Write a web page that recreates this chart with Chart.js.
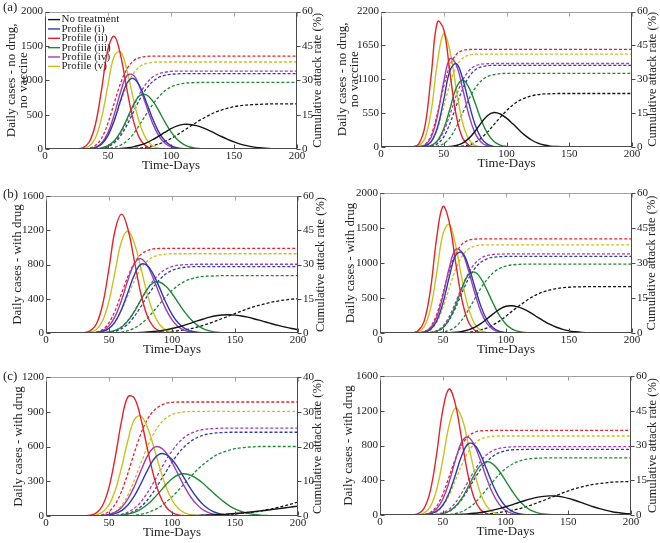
<!DOCTYPE html>
<html><head><meta charset="utf-8">
<script src="https://cdn.jsdelivr.net/npm/chart.js@4.4.1/dist/chart.umd.min.js"></script>
<style>
html,body{margin:0;padding:0;background:#fff;}
body{width:660px;height:543px;position:relative;overflow:hidden;}
canvas{position:absolute;}
</style></head><body>
<script>
// ---------- shared axis values ----------
const days = [0,5,10,15,20,25,30,35,40,45,50,55,60,65,70,75,80,85,90,95,100,105,110,115,120,125,130,135,140,145,150,155,160,165,170,175,180,185,190,195,200];
const profileLabels = ['No treatment','Profile (i)','Profile (ii)','Profile (iii)','Profile (iv)','Profile (v)'];
const xTicksStep = 50;
const leftMaxes  = [2000, 2200, 1600, 2000, 1200, 1600];
const leftSteps  = [500, 550, 400, 500, 300, 400];
const rightMaxes = [60, 60, 60, 60, 40, 60];
const rightSteps = [15, 15, 15, 15, 10, 15];
const yTitles = [['Daily cases - no drug,','no vaccine'], ['Daily cases - no drug,','no vaccine'],
  'Daily cases - with drug','Daily cases - with drug','Daily cases - with drug','Daily cases - with drug'];
const rightTitle = 'Cumulative attack rate (%)';
const xTitle = 'Time-Days';
const panelLabels = ['(a)','','(b)','','(c)',''];

// ---------- panel (a) left : daily cases ----------
const A1_daily_none = [0,0,0,0,0,0,0,0,0,1, 2,4,8,17,31,54,87,131,184,241, 295,336,358,357,340,311,272,228,182,140, 103,72,49,31,19,11,6,4,2,1, 0];
const A1_daily_i    = [0,0,0,0,0,0,1,5,21,72, 194,416,709,957,1027,920,703,460,256,123, 50,17,5,1,0,0,0,0,0,0, 0,0,0,0,0,0,0,0,0,0, 0];
const A1_daily_ii   = [0,0,0,0,0,2,18,98,357,876, 1456,1641,1363,867,424,158,46,10,2,0, 0,0,0,0,0,0,0,0,0,0, 0,0,0,0,0,0,0,0,0,0, 0];
const A1_daily_iii  = [0,0,0,0,0,0,0,1,4,16, 48,120,250,436,636,774,792,711,566,398, 249,138,68,29,11,4,1,0,0,0, 0,0,0,0,0,0,0,0,0,0, 0];
const A1_daily_iv   = [0,0,0,0,0,0,1,6,25,88, 238,504,830,1066,1077,911,650,394,201,87, 32,10,3,0,0,0,0,0,0,0, 0,0,0,0,0,0,0,0,0,0, 0];
const A1_daily_v    = [0,0,0,0,0,1,7,40,161,459, 934,1355,1414,1148,740,379,154,50,13,3, 0,0,0,0,0,0,0,0,0,0, 0,0,0,0,0,0,0,0,0,0, 0];
// panel (a) left : cumulative attack rate (%)
const A1_cum_none = [0,0,0,0,0,0,0,0,0,0, 0,0,0.1,0.1,0.2,0.4,0.8,1.4,2.1,3.2, 4.6,6.2,8.0,9.8,11.6,13.2,14.7,16.0,17.0,17.8, 18.5,18.9,19.2,19.4,19.5,19.6,19.7,19.7,19.7,19.7, 19.7];
const A1_cum_i    = [0,0,0,0,0,0,0,0,0.1,0.3, 1.0,2.7,5.8,10.4,16.0,21.5,26.0,29.2,31.2,32.2, 32.6,32.8,32.9,32.9,32.9,32.9,32.9,32.9,32.9,32.9, 32.9,32.9,32.9,32.9,32.9,32.9,32.9,32.9,32.9,32.9, 32.9];
const A1_cum_ii   = [0,0,0,0,0,0,0,0.3,1.5,4.8, 11.3,20.2,28.7,34.9,38.4,39.9,40.4,40.6,40.6,40.6, 40.6,40.6,40.6,40.6,40.6,40.6,40.6,40.6,40.6,40.6, 40.6,40.6,40.6,40.6,40.6,40.6,40.6,40.6,40.6,40.6, 40.6];
const A1_cum_iii  = [0,0,0,0,0,0,0,0,0,0.1, 0.2,0.7,1.7,3.5,6.5,10.5,14.9,19.1,22.6,25.3, 27.1,28.1,28.7,28.9,29.0,29.1,29.1,29.1,29.1,29.1, 29.1,29.1,29.1,29.1,29.1,29.1,29.1,29.1,29.1,29.1, 29.1];
const A1_cum_iv   = [0,0,0,0,0,0,0,0,0.1,0.4, 1.2,3.2,6.9,12.3,18.3,23.9,28.3,31.2,32.8,33.5, 33.9,34.0,34.0,34.0,34.0,34.0,34.0,34.0,34.0,34.0, 34.0,34.0,34.0,34.0,34.0,34.0,34.0,34.0,34.0,34.0, 34.0];
const A1_cum_v    = [0,0,0,0,0,0,0,0.1,0.6,2.2, 6.1,12.5,20.4,27.6,32.8,35.9,37.3,37.8,38.0,38.0, 38.0,38.0,38.0,38.0,38.0,38.0,38.0,38.0,38.0,38.0, 38.0,38.0,38.0,38.0,38.0,38.0,38.0,38.0,38.0,38.0, 38.0];

// ---------- panel (a) right ----------
const A2_daily_none = [0,0,0,0,0,0,0,0,0,0, 2,8,25,64,140,256,396,513,560,536, 469,376,276,185,114,64,33,15,7,3, 1,0,0,0,0,0,0,0,0,0, 0];
const A2_daily_i    = [0,0,0,0,0,0,2,16,88,318, 767,1242,1355,1114,717,361,142,44,11,2, 0,0,0,0,0,0,0,0,0,0, 0,0,0,0,0,0,0,0,0,0, 0];
const A2_daily_ii   = [0,0,0,0,0,3,48,335,1167,2035, 1909,1194,506,145,28,4,0,0,0,0, 0,0,0,0,0,0,0,0,0,0, 0,0,0,0,0,0,0,0,0,0, 0];
const A2_daily_iii  = [0,0,0,0,0,0,1,5,27,104, 298,625,962,1089,970,713,432,216,89,30, 9,2,0,0,0,0,0,0,0,0, 0,0,0,0,0,0,0,0,0,0, 0];
const A2_daily_iv   = [0,0,0,0,0,0,4,32,158,509, 1061,1438,1334,951,523,221,72,18,4,0, 0,0,0,0,0,0,0,0,0,0, 0,0,0,0,0,0,0,0,0,0, 0];
const A2_daily_v    = [0,0,0,0,0,1,19,139,584,1380, 1840,1554,936,402,123,27,4,0,0,0, 0,0,0,0,0,0,0,0,0,0, 0,0,0,0,0,0,0,0,0,0, 0];
const A2_cum_none = [0,0,0,0,0,0,0,0,0,0, 0,0,0.1,0.4,0.9,2.1,4.0,6.7,9.9,13.1, 16.1,18.6,20.5,21.8,22.7,23.2,23.5,23.6,23.7,23.7, 23.7,23.7,23.7,23.7,23.7,23.7,23.7,23.7,23.7,23.7, 23.7];
const A2_cum_i    = [0,0,0,0,0,0,0,0,0.3,1.4, 4.5,10.5,18.3,25.6,31.0,34.1,35.5,36.0,36.2,36.2, 36.2,36.2,36.2,36.2,36.2,36.2,36.2,36.2,36.2,36.2, 36.2,36.2,36.2,36.2,36.2,36.2,36.2,36.2,36.2,36.2, 36.2];
const A2_cum_ii   = [0,0,0,0,0,0,0.1,1.0,5.2,14.9, 26.9,36.2,41.0,42.8,43.2,43.3,43.3,43.3,43.3,43.3, 43.3,43.3,43.3,43.3,43.3,43.3,43.3,43.3,43.3,43.3, 43.3,43.3,43.3,43.3,43.3,43.3,43.3,43.3,43.3,43.3, 43.3];
const A2_cum_iii  = [0,0,0,0,0,0,0,0,0.1,0.4, 1.5,4.2,8.9,15.0,21.1,26.1,29.4,31.3,32.1,32.5, 32.6,32.6,32.6,32.6,32.6,32.6,32.6,32.6,32.6,32.6, 32.6,32.6,32.6,32.6,32.6,32.6,32.6,32.6,32.6,32.6, 32.6];
const A2_cum_iv   = [0,0,0,0,0,0,0,0.1,0.6,2.4, 7.0,14.5,22.8,29.5,33.8,35.9,36.7,36.9,37.0,37.0, 37.0,37.0,37.0,37.0,37.0,37.0,37.0,37.0,37.0,37.0, 37.0,37.0,37.0,37.0,37.0,37.0,37.0,37.0,37.0,37.0, 37.0];
const A2_cum_v    = [0,0,0,0,0,0,0,0.4,2.3,8.0, 17.9,28.1,35.5,39.3,40.7,41.1,41.2,41.2,41.2,41.2, 41.2,41.2,41.2,41.2,41.2,41.2,41.2,41.2,41.2,41.2, 41.2,41.2,41.2,41.2,41.2,41.2,41.2,41.2,41.2,41.2, 41.2];

// ---------- panel (b) left ----------
const B1_daily_none = [0,0,0,0,0,0,0,0,0,0, 0,0,1,2,4,6,11,17,25,37, 52,70,92,116,141,164,185,201,211,213, 209,199,185,167,147,126,105,86,68,52, 39];
const B1_daily_i    = [0,0,0,0,0,0,0,1,5,18, 54,134,277,474,675,798,792,691,533,362, 218,116,54,23,8,3,1,0,0,0, 0,0,0,0,0,0,0,0,0,0, 0];
const B1_daily_ii   = [0,0,0,0,0,0,4,24,106,336, 755,1212,1388,1215,851,478,214,77,22,5, 1,0,0,0,0,0,0,0,0,0, 0,0,0,0,0,0,0,0,0,0, 0];
const B1_daily_iii  = [0,0,0,0,0,0,0,0,1,4, 11,30,70,141,247,377,503,585,596,548, 461,353,247,157,92,48,24,10,4,2, 1,0,0,0,0,0,0,0,0,0, 0];
const B1_daily_iv   = [0,0,0,0,0,0,0,2,8,28, 83,197,385,616,808,869,799,644,456,282, 154,73,31,11,4,1,0,0,0,0, 0,0,0,0,0,0,0,0,0,0, 0];
const B1_daily_v    = [0,0,0,0,0,0,2,9,42,145, 374,729,1072,1188,1055,778,476,242,102,36, 10,3,0,0,0,0,0,0,0,0, 0,0,0,0,0,0,0,0,0,0, 0];
const B1_cum_none = [0,0,0,0,0,0,0,0,0,0, 0,0,0,0,0,0.1,0.1,0.2,0.3,0.4, 0.7,1.0,1.4,1.9,2.6,3.4,4.3,5.3,6.4,7.4, 8.5,9.6,10.6,11.5,12.3,13.0,13.6,14.1,14.5,14.8, 15.0];
const B1_cum_i    = [0,0,0,0,0,0,0,0,0,0.1, 0.3,0.8,1.9,3.9,7.2,11.3,15.8,19.9,23.3,25.8, 27.4,28.3,28.8,29.0,29.1,29.1,29.1,29.1,29.1,29.1, 29.1,29.1,29.1,29.1,29.1,29.1,29.1,29.1,29.1,29.1, 29.1];
const B1_cum_ii   = [0,0,0,0,0,0,0,0.1,0.4,1.5, 4.5,10.0,17.4,24.7,30.5,34.2,36.0,36.8,37.0,37.1, 37.1,37.1,37.1,37.1,37.1,37.1,37.1,37.1,37.1,37.1, 37.1,37.1,37.1,37.1,37.1,37.1,37.1,37.1,37.1,37.1, 37.1];
const B1_cum_iii  = [0,0,0,0,0,0,0,0,0,0, 0.1,0.2,0.4,1.0,2.1,3.8,6.2,9.3,12.6,15.8, 18.6,20.9,22.6,23.7,24.4,24.8,24.9,25.0,25.1,25.1, 25.1,25.1,25.1,25.1,25.1,25.1,25.1,25.1,25.1,25.1, 25.1];
const B1_cum_iv   = [0,0,0,0,0,0,0,0,0,0.1, 0.4,1.1,2.7,5.5,9.5,14.2,18.8,22.8,25.9,27.9, 29.1,29.7,29.9,30.0,30.1,30.1,30.1,30.1,30.1,30.1, 30.1,30.1,30.1,30.1,30.1,30.1,30.1,30.1,30.1,30.1, 30.1];
const B1_cum_v    = [0,0,0,0,0,0,0,0,0.2,0.6, 2.0,5.0,10.1,16.4,22.7,27.9,31.3,33.3,34.2,34.5, 34.7,34.7,34.7,34.7,34.7,34.7,34.7,34.7,34.7,34.7, 34.7,34.7,34.7,34.7,34.7,34.7,34.7,34.7,34.7,34.7, 34.7];

// ---------- panel (b) right ----------
const B2_daily_none = [0,0,0,0,0,0,0,0,0,1, 2,4,10,22,45,82,135,203,276,341, 382,389,370,333,283,226,171,122,82,52, 31,18,9,5,2,1,0,0,0,0, 0];
const B2_daily_i    = [0,0,0,0,0,0,2,11,51,172, 431,801,1109,1152,969,672,385,182,71,23, 6,1,0,0,0,0,0,0,0,0, 0,0,0,0,0,0,0,0,0,0, 0];
const B2_daily_ii   = [0,0,0,0,0,3,27,166,613,1359, 1808,1580,1012,477,165,42,8,1,0,0, 0,0,0,0,0,0,0,0,0,0, 0,0,0,0,0,0,0,0,0,0, 0];
const B2_daily_iii  = [0,0,0,0,0,0,0,1,7,26, 80,199,396,637,828,870,781,609,414,244, 126,56,22,7,2,1,0,0,0,0, 0,0,0,0,0,0,0,0,0,0, 0];
const B2_daily_iv   = [0,0,0,0,0,0,3,16,70,226, 535,932,1193,1152,907,585,309,134,48,14, 3,1,0,0,0,0,0,0,0,0, 0,0,0,0,0,0,0,0,0,0, 0];
const B2_daily_v    = [0,0,0,0,0,2,15,87,338,854, 1416,1551,1254,777,369,135,38,8,1,0, 0,0,0,0,0,0,0,0,0,0, 0,0,0,0,0,0,0,0,0,0, 0];
const B2_cum_none = [0,0,0,0,0,0,0,0,0,0, 0,0,0.1,0.1,0.3,0.7,1.3,2.2,3.5,5.2, 7.2,9.4,11.5,13.4,15.2,16.6,17.7,18.5,19.0,19.4, 19.6,19.8,19.8,19.9,19.9,19.9,19.9,19.9,19.9,19.9, 19.9];
const B2_cum_i    = [0,0,0,0,0,0,0,0,0.2,0.7, 2.3,5.6,10.9,17.2,23.0,27.5,30.3,31.8,32.5,32.7, 32.8,32.8,32.8,32.8,32.8,32.8,32.8,32.8,32.8,32.8, 32.8,32.8,32.8,32.8,32.8,32.8,32.8,32.8,32.8,32.8, 32.8];
const B2_cum_ii   = [0,0,0,0,0,0,0.1,0.5,2.5,7.9, 17.0,26.7,33.9,38.0,39.7,40.2,40.3,40.3,40.3,40.3, 40.3,40.3,40.3,40.3,40.3,40.3,40.3,40.3,40.3,40.3, 40.3,40.3,40.3,40.3,40.3,40.3,40.3,40.3,40.3,40.3, 40.3];
const B2_cum_iii  = [0,0,0,0,0,0,0,0,0,0.1, 0.4,1.1,2.7,5.6,9.7,14.5,19.2,23.0,25.9,27.7, 28.7,29.2,29.4,29.5,29.5,29.5,29.5,29.5,29.5,29.5, 29.5,29.5,29.5,29.5,29.5,29.5,29.5,29.5,29.5,29.5, 29.5];
const B2_cum_iv   = [0,0,0,0,0,0,0,0,0.3,1.0, 3.0,7.1,13.1,19.7,25.5,29.6,32.0,33.2,33.7,33.8, 33.9,33.9,33.9,33.9,33.9,33.9,33.9,33.9,33.9,33.9, 33.9,33.9,33.9,33.9,33.9,33.9,33.9,33.9,33.9,33.9, 33.9];
const B2_cum_v    = [0,0,0,0,0,0,0,0.3,1.3,4.5, 10.9,19.3,27.2,32.8,35.9,37.2,37.7,37.8,37.8,37.8, 37.8,37.8,37.8,37.8,37.8,37.8,37.8,37.8,37.8,37.8, 37.8,37.8,37.8,37.8,37.8,37.8,37.8,37.8,37.8,37.8, 37.8];

// ---------- panel (c) left ----------
const C1_daily_none = [0,0,0,0,0,0,0,0,0,0, 0,0,0,0,0,0,0,0,1,1, 2,2,3,4,5,7,9,11,14,18, 22,26,32,37,44,50,57,64,71,78, 85];
const C1_daily_i    = [0,0,0,0,0,0,0,0,1,3, 8,21,47,95,171,272,383,481,535,532, 488,412,322,232,155,95,54,28,14,6, 3,1,0,0,0,0,0,0,0,0, 0];
const C1_daily_ii   = [0,0,0,0,0,0,1,6,27,93, 247,511,822,1029,1020,853,606,366,188,82, 30,10,3,1,0,0,0,0,0,0, 0,0,0,0,0,0,0,0,0,0, 0];
const C1_daily_iii  = [0,0,0,0,0,0,0,0,0,1, 1,3,8,17,32,58,95,146,205,267, 321,356,365,351,321,278,228,178,132,92, 61,39,23,13,7,4,2,1,0,0, 0];
const C1_daily_iv   = [0,0,0,0,0,0,0,0,1,4, 13,33,74,147,253,383,506,586,596,550, 463,357,252,162,96,51,25,11,5,2, 1,0,0,0,0,0,0,0,0,0, 0];
const C1_daily_v    = [0,0,0,0,0,0,0,2,10,34, 96,222,421,652,829,865,779,615,426,259, 138,64,26,9,3,1,0,0,0,0, 0,0,0,0,0,0,0,0,0,0, 0];
const C1_cum_none = [0,0,0,0,0,0,0,0,0,0, 0,0,0,0,0,0,0,0,0,0, 0,0,0.1,0.1,0.1,0.2,0.2,0.3,0.4,0.5, 0.6,0.8,0.9,1.2,1.4,1.8,2.1,2.5,3.0,3.5, 4.0];
const C1_cum_i    = [0,0,0,0,0,0,0,0,0,0, 0,0.1,0.3,0.7,1.4,2.6,4.4,6.8,9.7,12.6, 15.5,18.0,20.0,21.5,22.6,23.3,23.7,23.9,24.0,24.1, 24.1,24.1,24.1,24.1,24.1,24.1,24.1,24.1,24.1,24.1, 24.1];
const C1_cum_ii   = [0,0,0,0,0,0,0,0,0.1,0.4, 1.3,3.4,7.1,12.3,18.1,23.4,27.5,30.1,31.6,32.4, 32.7,32.8,32.8,32.8,32.8,32.8,32.8,32.8,32.8,32.8, 32.8,32.8,32.8,32.8,32.8,32.8,32.8,32.8,32.8,32.8, 32.8];
const C1_cum_iii  = [0,0,0,0,0,0,0,0,0,0, 0,0,0.1,0.1,0.2,0.5,0.9,1.6,2.5,3.9, 5.5,7.4,9.4,11.4,13.3,14.9,16.3,17.5,18.3,18.9, 19.4,19.6,19.8,19.9,20.0,20.0,20.0,20.0,20.0,20.0, 20.0];
const C1_cum_iv   = [0,0,0,0,0,0,0,0,0,0, 0.1,0.2,0.5,1.1,2.2,3.9,6.4,9.4,12.7,15.9, 18.7,21.0,22.7,23.8,24.5,24.9,25.1,25.2,25.3,25.3, 25.3,25.3,25.3,25.3,25.3,25.3,25.3,25.3,25.3,25.3, 25.3];
const C1_cum_v    = [0,0,0,0,0,0,0,0,0,0.1, 0.5,1.3,3.1,6.0,10.2,14.9,19.5,23.4,26.2,28.1, 29.2,29.7,30.0,30.1,30.1,30.1,30.1,30.1,30.1,30.1, 30.1,30.1,30.1,30.1,30.1,30.1,30.1,30.1,30.1,30.1, 30.1];

// ---------- panel (c) right ----------
const C2_daily_none = [0,0,0,0,0,0,0,0,1,1, 2,3,5,9,13,20,29,41,56,74, 95,117,141,164,185,203,214,220,218,208, 192,170,146,120,95,73,54,38,27,18, 13];
const C2_daily_i    = [0,0,0,0,0,0,1,3,12,41, 112,251,458,678,816,810,698,525,346,199, 100,44,17,6,2,0,0,0,0,0, 0,0,0,0,0,0,0,0,0,0, 0];
const C2_daily_ii   = [0,0,0,0,0,2,14,74,272,689, 1204,1450,1280,879,471,196,64,16,3,0, 0,0,0,0,0,0,0,0,0,0, 0,0,0,0,0,0,0,0,0,0, 0];
const C2_daily_iii  = [0,0,0,0,0,0,0,0,2,5, 16,43,97,188,316,457,571,615,586,506, 396,282,181,106,56,27,12,5,2,1, 0,0,0,0,0,0,0,0,0,0, 0];
const C2_daily_iv   = [0,0,0,0,0,0,1,5,21,69, 181,376,627,838,897,809,629,422,244,122, 52,19,6,2,0,0,0,0,0,0, 0,0,0,0,0,0,0,0,0,0, 0];
const C2_daily_v    = [0,0,0,0,0,1,4,23,94,285, 631,1027,1229,1127,841,510,251,101,33,9, 2,0,0,0,0,0,0,0,0,0, 0,0,0,0,0,0,0,0,0,0, 0];
const C2_cum_none = [0,0,0,0,0,0,0,0,0,0, 0,0,0,0.1,0.1,0.2,0.3,0.5,0.7,1.1, 1.5,2.0,2.6,3.4,4.2,5.2,6.2,7.3,8.3,9.4, 10.4,11.3,12.0,12.7,13.2,13.6,13.9,14.2,14.3,14.4, 14.5];
const C2_cum_i    = [0,0,0,0,0,0,0,0,0,0.2, 0.6,1.5,3.5,6.6,10.8,15.4,19.6,23.0,25.4,26.9, 27.7,28.1,28.2,28.3,28.3,28.3,28.3,28.3,28.3,28.3, 28.3,28.3,28.3,28.3,28.3,28.3,28.3,28.3,28.3,28.3, 28.3];
const C2_cum_ii   = [0,0,0,0,0,0,0,0.2,1.1,3.7, 8.9,16.4,24.1,30.1,33.8,35.6,36.3,36.4,36.5,36.5, 36.5,36.5,36.5,36.5,36.5,36.5,36.5,36.5,36.5,36.5, 36.5,36.5,36.5,36.5,36.5,36.5,36.5,36.5,36.5,36.5, 36.5];
const C2_cum_iii  = [0,0,0,0,0,0,0,0,0,0, 0.1,0.2,0.6,1.4,2.8,4.9,7.8,11.1,14.4,17.5, 20.0,21.8,23.1,23.9,24.3,24.5,24.6,24.7,24.7,24.7, 24.7,24.7,24.7,24.7,24.7,24.7,24.7,24.7,24.7,24.7, 24.7];
const C2_cum_iv   = [0,0,0,0,0,0,0,0,0.1,0.3, 1.0,2.5,5.2,9.4,14.2,19.0,23.0,26.0,27.8,28.8, 29.2,29.4,29.5,29.5,29.5,29.5,29.5,29.5,29.5,29.5, 29.5,29.5,29.5,29.5,29.5,29.5,29.5,29.5,29.5,29.5, 29.5];
const C2_cum_v    = [0,0,0,0,0,0,0,0.1,0.4,1.3, 3.8,8.4,14.8,21.4,26.9,30.6,32.7,33.6,34.0,34.1, 34.1,34.1,34.1,34.1,34.1,34.1,34.1,34.1,34.1,34.1, 34.1,34.1,34.1,34.1,34.1,34.1,34.1,34.1,34.1,34.1, 34.1];

// ---------- styles & layout (not data) ----------
const profileColors = ['#141414','#2a3cb0','#e4232b','#1d8a33','#a63ab6','#c9c21e'];
const FONT = "'Liberation Serif','Times New Roman',serif";
// page-pixel geometry of each panel: canvas box, plot area, title placements
const geoms = [
  {x:0,   y:0,   w:330, h:180, L:45,  T:8,   R:297, B:149, yT:11.7, rT:318,   xT:166, lab:[3,8]},
  {x:330, y:0,   w:330, h:180, L:381, T:7,   R:632, B:147, yT:13,   rT:652.5, xT:164, lab:[0,0]},
  {x:0,   y:180, w:330, h:180, L:46,  T:196, R:298, B:333, yT:17.5, rT:320.5, xT:350, lab:[3,195]},
  {x:330, y:180, w:330, h:180, L:380, T:193, R:632, B:333, yT:20.5, rT:652,   xT:350, lab:[0,0]},
  {x:0,   y:360, w:330, h:183, L:46,  T:377, R:298, B:516, yT:18.5, rT:318,   xT:533, lab:[3,377]},
  {x:330, y:360, w:330, h:183, L:380, T:376, R:631, B:515, yT:19,   rT:652.5, xT:532, lab:[0,0]}
];
const dailySets = [
  [A1_daily_none,A1_daily_i,A1_daily_ii,A1_daily_iii,A1_daily_iv,A1_daily_v],
  [A2_daily_none,A2_daily_i,A2_daily_ii,A2_daily_iii,A2_daily_iv,A2_daily_v],
  [B1_daily_none,B1_daily_i,B1_daily_ii,B1_daily_iii,B1_daily_iv,B1_daily_v],
  [B2_daily_none,B2_daily_i,B2_daily_ii,B2_daily_iii,B2_daily_iv,B2_daily_v],
  [C1_daily_none,C1_daily_i,C1_daily_ii,C1_daily_iii,C1_daily_iv,C1_daily_v],
  [C2_daily_none,C2_daily_i,C2_daily_ii,C2_daily_iii,C2_daily_iv,C2_daily_v]
];
const cumSets = [
  [A1_cum_none,A1_cum_i,A1_cum_ii,A1_cum_iii,A1_cum_iv,A1_cum_v],
  [A2_cum_none,A2_cum_i,A2_cum_ii,A2_cum_iii,A2_cum_iv,A2_cum_v],
  [B1_cum_none,B1_cum_i,B1_cum_ii,B1_cum_iii,B1_cum_iv,B1_cum_v],
  [B2_cum_none,B2_cum_i,B2_cum_ii,B2_cum_iii,B2_cum_iv,B2_cum_v],
  [C1_cum_none,C1_cum_i,C1_cum_ii,C1_cum_iii,C1_cum_iv,C1_cum_v],
  [C2_cum_none,C2_cum_i,C2_cum_ii,C2_cum_iii,C2_cum_iv,C2_cum_v]
];

const framePlugin = {
  id: 'frame',
  afterDraw(chart) {
    const o = chart.options.plugins.frame;
    const g = o.geom;
    const {ctx, chartArea: a, scales} = chart;
    const L = Math.round(a.left) + 0.5, R = Math.round(a.right) - 0.5;
    const T = Math.round(a.top) + 0.5, B = Math.round(a.bottom) - 0.5;
    const line = (x1,y1,x2,y2) => { ctx.beginPath(); ctx.moveTo(x1,y1); ctx.lineTo(x2,y2); ctx.stroke(); };
    ctx.save();
    ctx.lineWidth = 1;
    ctx.strokeStyle = '#a0a0a0';
    line(L, T, R, T);
    ctx.strokeStyle = '#4a4a4a';
    line(L, T, L, B); line(L, B, R, B); line(R, T, R, B);
    // inward ticks on x (bottom & top) and left y, outward on right y
    scales.x.ticks.forEach(t => {
      const px = Math.round(scales.x.getPixelForValue(t.value)) + 0.5;
      ctx.strokeStyle = '#4a4a4a'; line(px, B, px, B - 4);
      ctx.strokeStyle = '#a0a0a0'; line(px, T, px, T + 4);
    });
    ctx.strokeStyle = '#4a4a4a';
    scales.y.ticks.forEach(t => {
      const py = Math.round(scales.y.getPixelForValue(t.value)) + 0.5;
      line(L, py, L + 4, py);
    });
    scales.y2.ticks.forEach(t => {
      const py = Math.round(scales.y2.getPixelForValue(t.value)) + 0.5;
      line(R, py, R + 4, py);
    });
    // right-axis title (reads bottom to top)
    ctx.fillStyle = '#222';
    ctx.font = '12.5px ' + FONT;
    ctx.textAlign = 'center'; ctx.textBaseline = 'middle';
    ctx.save();
    ctx.translate(g.rT - g.x, (a.top + a.bottom) / 2);
    ctx.rotate(-Math.PI / 2);
    ctx.fillText(rightTitle, 0, 0);
    ctx.restore();
    // panel label
    if (o.label) {
      ctx.font = '13px ' + FONT;
      ctx.textAlign = 'left';
      ctx.fillText(o.label, g.lab[0] - g.x, g.lab[1] - g.y);
    }
    // legend
    if (o.legend) {
      ctx.font = '11px ' + FONT;
      ctx.textAlign = 'left'; ctx.textBaseline = 'middle';
      ctx.lineWidth = 1.4;
      profileLabels.forEach((lbl, k) => {
        const yy = a.top + 8 + k * 9.35;
        ctx.strokeStyle = profileColors[k];
        line(a.left + 3, yy, a.left + 15, yy);
        ctx.fillStyle = '#222';
        ctx.fillText(lbl, a.left + 16.5, yy);
      });
    }
    ctx.restore();
  }
};

function buildPanel(p) {
  const g = geoms[p];
  const cv = document.createElement('canvas');
  cv.width = g.w; cv.height = g.h;
  cv.style.left = g.x + 'px'; cv.style.top = g.y + 'px';
  cv.style.width = g.w + 'px'; cv.style.height = g.h + 'px';
  document.body.appendChild(cv);
  const datasets = [];
  dailySets[p].forEach((arr, k) => datasets.push({
    label: profileLabels[k],
    data: days.map((d, i) => ({x: d, y: arr[i]})),
    yAxisID: 'y', borderColor: profileColors[k], borderWidth: 1.4,
    pointRadius: 0, tension: 0.4, fill: false
  }));
  cumSets[p].forEach((arr, k) => datasets.push({
    label: profileLabels[k] + ' - cumulative',
    data: days.map((d, i) => ({x: d, y: arr[i]})),
    yAxisID: 'y2', borderColor: profileColors[k], borderWidth: 1.3, borderDash: [3, 2],
    pointRadius: 0, cubicInterpolationMode: 'monotone', fill: false
  }));
  const yTitleLH = 0.9, yTitleSize = 13;
  const xTitleSize = 13, xTitleLH = 1.2;
  const numFmt = v => String(v);
  new Chart(cv, {
    type: 'line',
    data: {datasets},
    options: {
      responsive: false, animation: false, events: [],
      layout: {padding: {top: g.T - g.y, left: 0, right: 0, bottom: 0}},
      plugins: {legend: {display: false}, tooltip: {enabled: false},
        frame: {geom: g, label: panelLabels[p], legend: p === 0}},
      scales: {
        x: {type: 'linear', position: 'bottom', min: 0, max: 200,
          grid: {display: false, drawTicks: false}, border: {display: false},
          ticks: {stepSize: xTicksStep, padding: 1, autoSkip: false, maxRotation: 0, color: '#222',
            font: {family: FONT, size: 11}, callback: numFmt},
          title: {display: true, text: xTitle, color: '#222', font: {family: FONT, size: xTitleSize, lineHeight: xTitleLH},
            padding: {top: 0, bottom: (g.y + g.h - g.xT) - xTitleSize * xTitleLH / 2}},
          afterFit: s => { s.height = g.y + g.h - g.B; }},
        y: {type: 'linear', position: 'left', min: 0, max: leftMaxes[p],
          grid: {display: false, drawTicks: false}, border: {display: false},
          ticks: {stepSize: leftSteps[p], padding: 2, color: '#222', font: {family: FONT, size: 11}, callback: numFmt},
          title: {display: true, text: yTitles[p], color: '#222', font: {family: FONT, size: yTitleSize, lineHeight: yTitleLH},
            padding: {top: g.yT - yTitleSize * yTitleLH / 2, bottom: 0}},
          afterFit: s => { s.width = g.L - g.x; }},
        y2: {type: 'linear', position: 'right', min: 0, max: rightMaxes[p],
          grid: {display: false, drawTicks: false, drawOnChartArea: false}, border: {display: false},
          ticks: {stepSize: rightSteps[p], padding: 5, color: '#222', font: {family: FONT, size: 11}, callback: numFmt},
          afterFit: s => { s.width = g.x + g.w - g.R; }}
      }
    },
    plugins: [framePlugin]
  });
}
for (let p = 0; p < 6; p++) buildPanel(p);
</script>
</body></html>
